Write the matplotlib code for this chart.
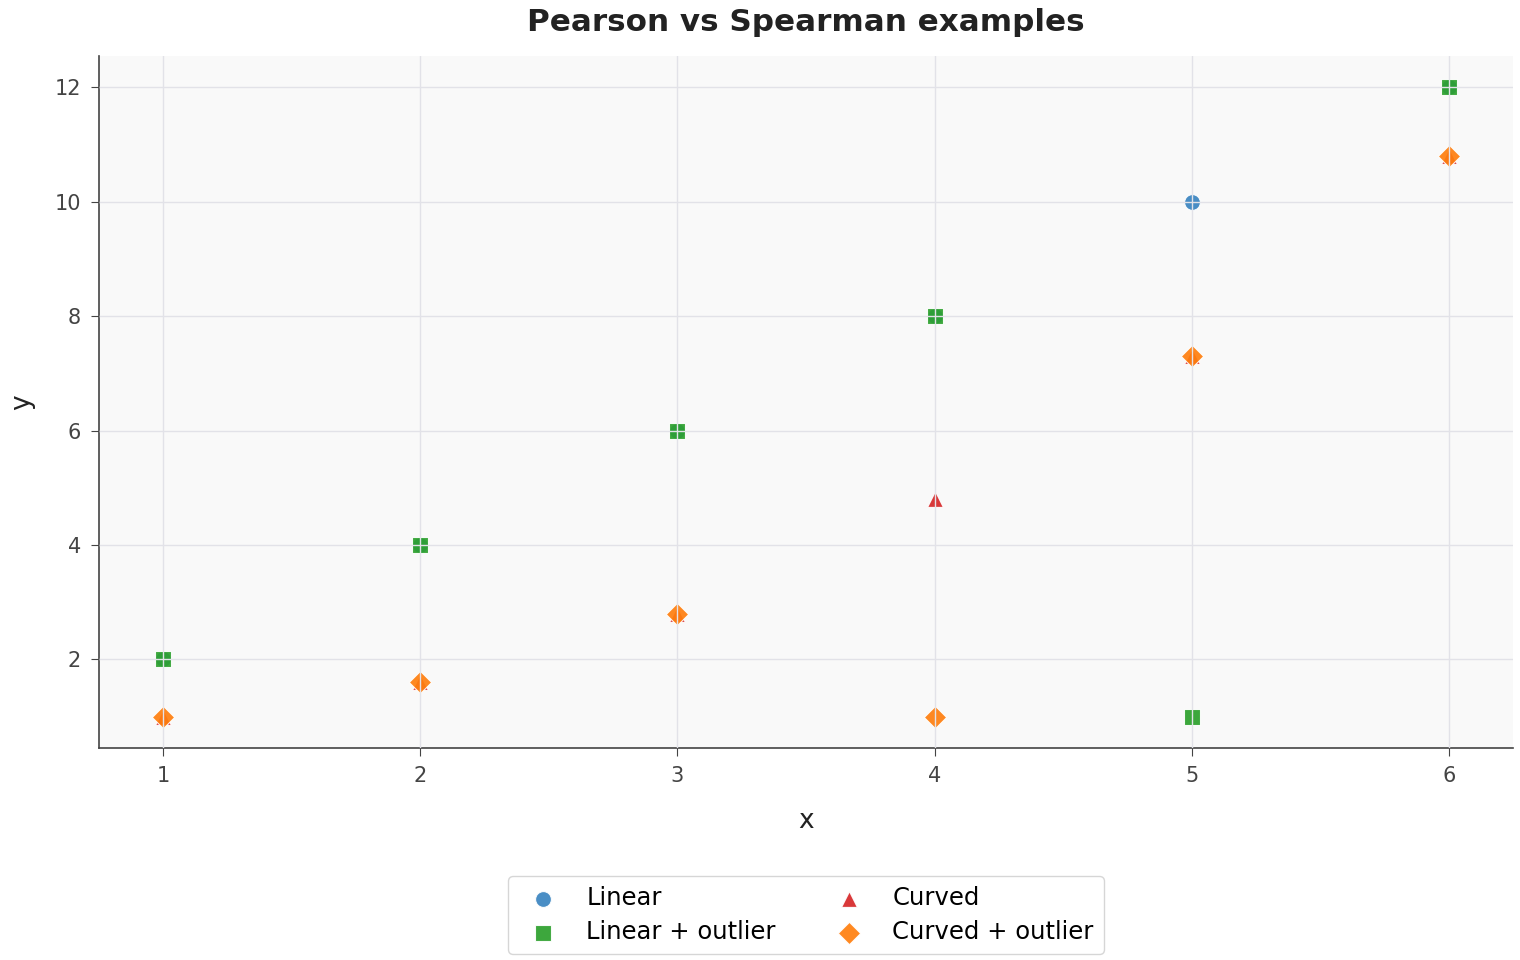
import matplotlib
matplotlib.use("Agg")
import matplotlib.pyplot as plt

x = [1, 2, 3, 4, 5, 6]
linear = [2, 4, 6, 8, 10, 12]
linear_outlier = [2, 4, 6, 8, 1, 12]
curved = [1.0, 1.6, 2.8, 4.8, 7.3, 10.8]
curved_outlier = [1.0, 1.6, 2.8, 1.0, 7.3, 10.8]

series = [
    ("Linear", linear, "o", "#3a84c0"),
    ("Linear + outlier", linear_outlier, "s", "#2ca02c"),
    ("Curved", curved, "^", "#d62728"),
    ("Curved + outlier", curved_outlier, "D", "#ff7f0e"),
]

plt.rcParams['font.family'] = ['DejaVu Sans']
fig = plt.figure(figsize=(15.2, 9.6), dpi=100)
ax = fig.add_axes([99/1520, 1 - 748/960, (1513-99)/1520, (748-56)/960])
ax.set_facecolor("#f9f9f9")

for label, ys, m, c in series:
    ax.scatter(x, ys, marker=m, s=130, color=c, edgecolors="white", linewidths=0.8,
               alpha=0.92, label=label, zorder=2)

ax.grid(True, color="#e2e2e8", linewidth=1.0, zorder=3)
ax.set_axisbelow(False)
for s in ["top", "right"]:
    ax.spines[s].set_visible(False)
for s in ["left", "bottom"]:
    ax.spines[s].set_color("#444444")
    ax.spines[s].set_linewidth(1.2)
ax.tick_params(colors="#444444", labelsize=15, length=6, pad=7)
ax.set_xlabel("x", fontsize=19, color="#222222", labelpad=16)
ax.set_ylabel("y", fontsize=19, color="#222222", labelpad=14)
ax.set_title("Pearson vs Spearman examples", fontsize=22.3, fontweight="bold",
             color="#222222", pad=18)

leg = ax.legend(loc="upper center", bbox_to_anchor=(0.5, -0.168), ncol=2,
                fontsize=17.5, frameon=True, columnspacing=2.0, handletextpad=0.8,
                borderpad=0.4, labelspacing=0.42)
leg.get_frame().set_edgecolor("#cccccc")

fig.savefig("out.png", dpi=100)
